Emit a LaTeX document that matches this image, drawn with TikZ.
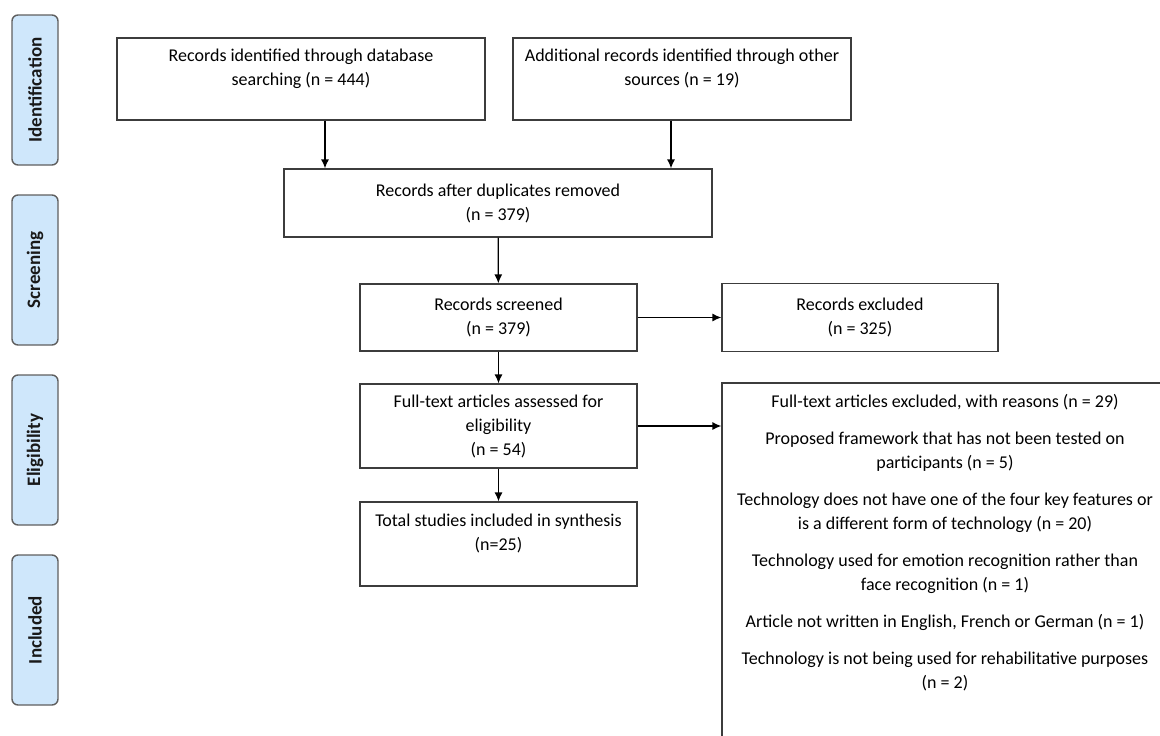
\documentclass[tikz,border=0pt]{standalone}
\usepackage{fontspec}
\setmainfont{Carlito}
\usepackage{xcolor}
\usetikzlibrary{arrows.meta}
\definecolor{phaseblue}{RGB}{207,231,251}
\definecolor{phaseline}{RGB}{95,95,95}
\definecolor{boxline}{RGB}{60,60,60}

\begin{document}
\begin{tikzpicture}[x=1pt, y=-1pt,
    box/.style={draw=boxline, line width=1.2pt, align=center, inner sep=0pt,
      font=\fontsize{18}{24}\selectfont},
    phase/.style={draw=phaseline, fill=phaseblue, line width=1.4pt, rounded corners=6pt,
      rotate=90, minimum width=150pt, minimum height=46pt, inner sep=0pt,
      font=\fontsize{19}{20}\selectfont\bfseries, text=black!90},
    flow/.style={-{Latex[length=9pt,width=8pt]}, line width=1.3pt}]
      \useasboundingbox (0,0) rectangle (1160,736);
      \clip (0,0) rectangle (1160,736);

      % Phases on the left
      \foreach \name/\y/\lbl in {ident/90/Identification, screen/270/Screening,
          elig/450/Eligibility, incl/630/Included} {
          \node[phase] (\name) at (35,\y) {\lbl};
        }

      % Identification
      \node[box, minimum width=368pt, minimum height=82pt] (dbsearch) at (301,79)
        {Records identified through database\\searching (n = 444)\\ \mbox{}};
      \node[box, minimum width=338pt, minimum height=82pt] (othersrc) at (682,79)
        {Additional records identified through other\\sources (n = 19)\\ \mbox{}};

      % Screening
      \node[box, minimum width=428pt, minimum height=68pt] (dedup) at (498,203)
        {Records after duplicates removed\\(n = 379)};
      \node[box, minimum width=277pt, minimum height=67pt] (screened) at (498.5,317.5)
        {Records screened\\(n = 379)};
      \node[box, minimum width=276pt, minimum height=68pt] (recexcl) at (860,317.5)
        {Records excluded\\(n = 325)};

      % Eligibility
      \node[box, minimum width=277pt, minimum height=84pt] (fulltext) at (498.5,426)
        {Full-text articles assessed for\\eligibility\\(n = 54)};
      \node[box, minimum width=446pt, minimum height=380pt] (reasons) at (945,573) {};
      \node[box, draw=none, anchor=north] (reasonlist) at ([yshift=-11pt]reasons.north)
        {Full-text articles excluded, with reasons (n = 29)\\[13pt]
         Proposed framework that has not been tested on\\participants (n = 5)\\[13pt]
         Technology does not have one of the four key features or\\is a different form of technology (n = 20)\\[13pt]
         Technology used for emotion recognition rather than\\face recognition (n = 1)\\[13pt]
         Article not written in English, French or German (n = 1)\\[13pt]
         Technology is not being used for rehabilitative purposes\\(n = 2)};

      % Included
      \node[box, minimum width=277pt, minimum height=84pt] (synth) at (498.5,544)
        {Total studies included in synthesis\\(n=25)\\ \mbox{}};

      % Arrows
      \draw[flow] ([xshift=24pt]dbsearch.south) -- ([xshift=24pt]dbsearch.south |- dedup.north);
      \draw[flow] ([xshift=-11pt]othersrc.south) -- ([xshift=-11pt]othersrc.south |- dedup.north);
      \draw[flow] (dedup) -- (screened);
      \draw[flow] (screened.east) -- (screened.east -| recexcl.west);
      \draw[flow] (screened) -- (fulltext);
      \draw[flow] (fulltext.east) -- (fulltext.east -| reasons.west);
      \draw[flow] (fulltext) -- (synth);
    \end{tikzpicture}
\end{document}
